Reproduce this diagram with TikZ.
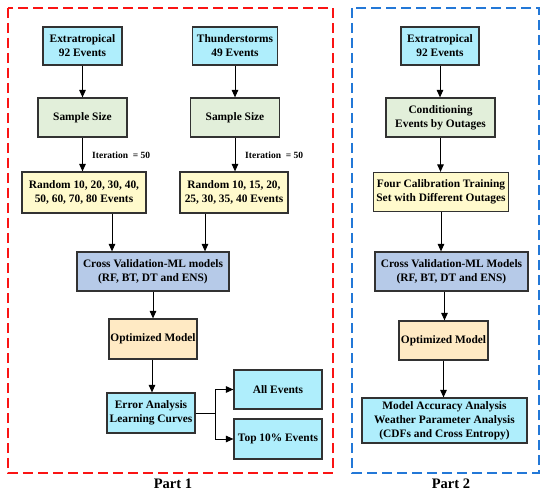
\documentclass[tikz,border=0pt]{standalone}
\usepackage{fontspec}
\setmainfont{Liberation Serif}
\usetikzlibrary{arrows.meta}
\definecolor{ccyan}{RGB}{175,238,252}
\definecolor{cgreen}{RGB}{226,239,218}
\definecolor{cyellow}{RGB}{255,250,204}
\definecolor{cblue}{RGB}{182,202,232}
\definecolor{corange}{RGB}{255,234,196}
\definecolor{boxline}{RGB}{50,50,50}
\definecolor{dred}{RGB}{250,20,20}
\definecolor{dblue}{RGB}{35,120,215}
\begin{document}
\begin{tikzpicture}[x=1pt,y=-1pt,
  box/.style={draw=boxline, line width=1.2pt, align=center,
    font=\fontsize{11.4}{13.8}\selectfont\bfseries, inner sep=0pt, minimum height=39pt},
  arr/.style={-{Triangle[length=7.5pt,width=6.5pt]}, line width=1pt},
  lbl/.style={font=\fontsize{9.5}{11}\selectfont\bfseries, anchor=west, inner sep=0pt},
  part/.style={font=\fontsize{14.5}{16}\selectfont\bfseries, inner sep=0pt},
  frame/.style={line width=1.8pt, dash pattern=on 10pt off 5pt}]
\useasboundingbox (0,0) rectangle (550,495);
\fill[white] (0,0) rectangle (550,495);
% frames
\draw[frame, dred] (8,8) rectangle (333,473);
\draw[frame, dblue] (352,8) rectangle (539,473);
\node[part] (p1) at (173,484) {Part 1};
\node[part] (p2) at (451,484) {Part 2};
% Part 1 nodes
\node[box, fill=ccyan, minimum width=79pt, minimum height=38pt] (e1) at (82.5,46) {Extratropical\\92 Events};
\node[box, fill=ccyan, minimum width=85pt, minimum height=38pt] (t1) at (235,46) {Thunderstorms\\49 Events};
\node[box, fill=cgreen, minimum width=89pt] (s1) at (82.5,117.5) {Sample Size};
\node[box, fill=cgreen, minimum width=89pt] (s2) at (235,117.5) {Sample Size};
\node[box, fill=cyellow, minimum width=124pt, minimum height=41pt] (r1) at (84,192.5) {Random 10, 20, 30, 40,\\50, 60, 70, 80 Events};
\node[box, fill=cyellow, minimum width=108pt, minimum height=41pt] (r2) at (234,192.5) {Random 10, 15, 20,\\25, 30, 35, 40 Events};
\node[box, fill=cblue, minimum width=152pt] (cv1) at (153,271.5) {Cross Validation-ML models\\(RF, BT, DT and ENS)};
\node[box, fill=corange, minimum width=88pt, minimum height=40pt] (o1) at (153,339) {Optimized Model};
\node[box, fill=ccyan, minimum width=88pt, minimum height=40pt] (ea) at (151,413) {Error Analysis\\Learning Curves};
\node[box, fill=ccyan, minimum width=88pt] (all) at (278,389.5) {All Events};
\node[box, fill=ccyan, minimum width=88pt, minimum height=40pt] (top) at (278,439) {Top 10\% Events};
\node[lbl] (it1) at (92,155) {Iteration\ \ = 50};
\node[lbl] (it2) at (245,155) {Iteration\ \ = 50};
% Part 1 connectors
\draw[arr] (e1) -- (s1);
\draw[arr] (t1) -- (s2);
\draw[arr] (s1) -- (r1.north -| s1);
\draw[arr] (s2) -- (r2.north -| s2);
\draw[arr] ([xshift=28pt]r1.south) -- ([xshift=28pt]r1.south |- cv1.north);
\draw[arr] ([xshift=-29pt]r2.south) -- ([xshift=-29pt]r2.south |- cv1.north);
\draw[arr] (cv1) -- (o1);
\draw[arr] ([xshift=-1pt]o1.south) -- ([xshift=-1pt]o1.south |- ea.north);
\draw[line width=1pt] (ea.east) -- ++(20,0) coordinate (j);
\draw[arr] (j) |- (all.west);
\draw[arr] (j) |- (top.west);
% Part 2 nodes
\node[box, fill=ccyan, minimum width=78pt, minimum height=38pt] (e2) at (440,46) {Extratropical\\92 Events};
\node[box, fill=cgreen, minimum width=109pt] (c2) at (440.5,117.5) {Conditioning\\Events by Outages};
\node[box, fill=cyellow, minimum width=135pt] (f2) at (441,192) {Four Calibration Training\\Set with Different Outages};
\node[box, fill=cblue, minimum width=153pt] (cv2) at (451.5,271.5) {Cross Validation-ML Models\\(RF, BT, DT and ENS)};
\node[box, fill=corange, minimum width=89pt] (o2) at (443.5,340.5) {Optimized Model};
\node[box, fill=ccyan, minimum width=165pt, minimum height=45pt] (m2) at (444.5,420.5) {Model Accuracy Analysis\\Weather Parameter Analysis\\(CDFs and Cross Entropy)};
% Part 2 connectors
\draw[arr] (e2) -- (c2.north -| e2);
\draw[arr] (c2) -- (f2.north -| c2);
\draw[arr] (f2) -- (cv2.north -| f2);
\draw[arr] ([xshift=-7pt]cv2.south) -- ([xshift=-7pt]cv2.south |- o2.north);
\draw[arr] (o2) -- (m2.north -| o2);
\end{tikzpicture}
\end{document}
